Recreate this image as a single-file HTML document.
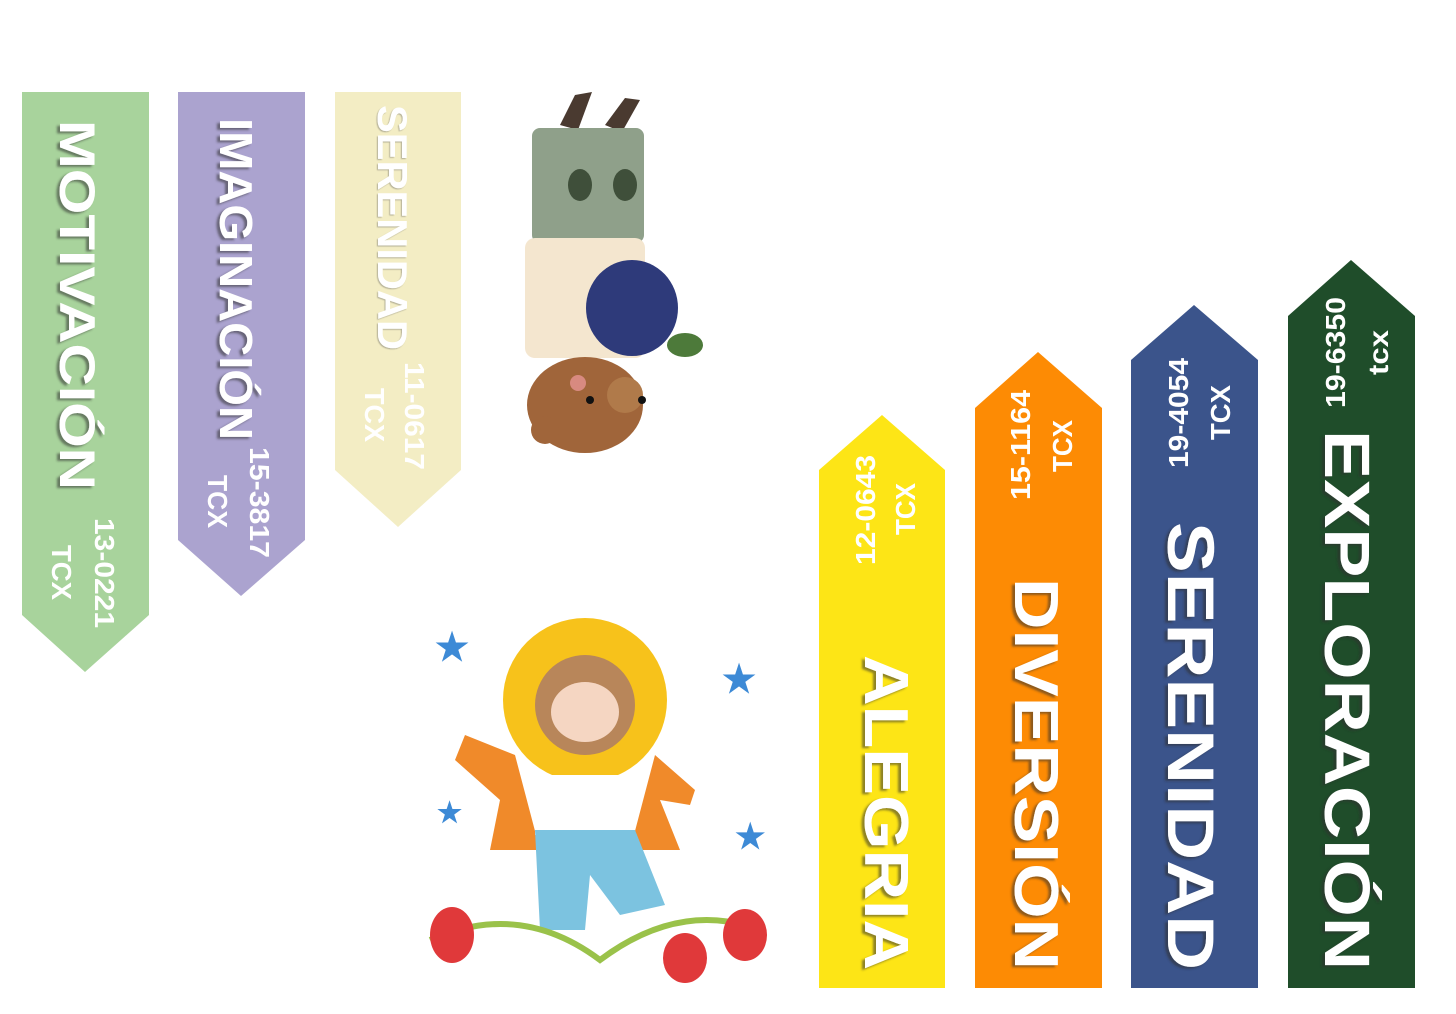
<!DOCTYPE html>
<html><head><meta charset="utf-8"><style>
html,body{margin:0;padding:0;background:#fff;}
svg{display:block;}
text{font-family:"Liberation Sans",sans-serif;font-weight:bold;fill:#fff;}
</style></head><body>
<svg width="1456" height="1014" viewBox="0 0 1456 1014" xmlns="http://www.w3.org/2000/svg">
<defs>
<filter id="sh" x="-20%" y="-20%" width="140%" height="140%"><feDropShadow dx="-3" dy="2" stdDeviation="1" flood-color="#333" flood-opacity="0.55"/></filter>
<filter id="sh2" x="-20%" y="-20%" width="140%" height="140%"><feDropShadow dx="-1" dy="1" stdDeviation="0.6" flood-color="#555" flood-opacity="0.4"/></filter>
</defs>
<polygon points="22,92 149,92 149,615 85,672 22,615" fill="#a8d39c"/>
<polygon points="178,92 305,92 305,540 241,596 178,540" fill="#aba3cf"/>
<polygon points="335,92 461,92 461,470 398,527 335,470" fill="#f3edc4"/>
<polygon points="819,470 882,415 945,470 945,988 819,988" fill="#fde516"/>
<polygon points="975,408 1038,352 1102,408 1102,988 975,988" fill="#fd8b04"/>
<polygon points="1131,360 1194,305 1258,360 1258,988 1131,988" fill="#3b548b"/>
<polygon points="1288,316 1351,260 1415,316 1415,988 1288,988" fill="#1f4d2a"/>

<g filter="url(#sh)">
<text transform="translate(60,120) rotate(90)" font-size="50" textLength="370" lengthAdjust="spacingAndGlyphs">MOTIVACIÓN</text>
<text transform="translate(220,118) rotate(90)" font-size="46" textLength="322" lengthAdjust="spacingAndGlyphs">IMAGINACIÓN</text>
<text transform="translate(865,655) rotate(90)" font-size="62" textLength="315" lengthAdjust="spacingAndGlyphs">ALEGRIA</text>
<text transform="translate(1015,578) rotate(90)" font-size="62" textLength="392" lengthAdjust="spacingAndGlyphs">DIVERSIÓN</text>
<text transform="translate(1168,522) rotate(90)" font-size="66" textLength="448" lengthAdjust="spacingAndGlyphs">SERENIDAD</text>
<text transform="translate(1325,430) rotate(90)" font-size="64" textLength="540" lengthAdjust="spacingAndGlyphs">EXPLORACIÓN</text>
</g>
<g filter="url(#sh2)">
<text transform="translate(378,105) rotate(90)" font-size="42" textLength="245" lengthAdjust="spacingAndGlyphs">SERENIDAD</text>
</g>
<g font-size="28">
<text transform="translate(95,518) rotate(90)" textLength="110" lengthAdjust="spacingAndGlyphs">13-0221</text>
<text transform="translate(52,545) rotate(90)" textLength="55" lengthAdjust="spacingAndGlyphs">TCX</text>
<text transform="translate(250,447) rotate(90)" textLength="111" lengthAdjust="spacingAndGlyphs">15-3817</text>
<text transform="translate(208,475) rotate(90)" textLength="53" lengthAdjust="spacingAndGlyphs">TCX</text>
<text transform="translate(405,362) rotate(90)" textLength="108" lengthAdjust="spacingAndGlyphs">11-0617</text>
<text transform="translate(365,388) rotate(90)" textLength="54" lengthAdjust="spacingAndGlyphs">TCX</text>
<text transform="translate(875,565) rotate(-90)" textLength="110" lengthAdjust="spacingAndGlyphs">12-0643</text>
<text transform="translate(915,535) rotate(-90)" textLength="52" lengthAdjust="spacingAndGlyphs">TCX</text>
<text transform="translate(1030,500) rotate(-90)" textLength="110" lengthAdjust="spacingAndGlyphs">15-1164</text>
<text transform="translate(1072,472) rotate(-90)" textLength="52" lengthAdjust="spacingAndGlyphs">TCX</text>
<text transform="translate(1188,468) rotate(-90)" textLength="110" lengthAdjust="spacingAndGlyphs">19-4054</text>
<text transform="translate(1230,440) rotate(-90)" textLength="55" lengthAdjust="spacingAndGlyphs">TCX</text>
<text transform="translate(1345,408) rotate(-90)" textLength="111" lengthAdjust="spacingAndGlyphs">19-6350</text>
<text transform="translate(1388,375) rotate(-90)" textLength="45" lengthAdjust="spacingAndGlyphs">tcx</text>
</g>

<g>
<path d="M560,125 L575,95 L592,92 L578,130 Z" fill="#4a3a30"/>
<path d="M605,125 L625,98 L640,100 L622,132 Z" fill="#4a3a30"/>
<rect x="532" y="128" width="112" height="115" rx="8" fill="#8fa08a"/>
<ellipse cx="580" cy="185" rx="12" ry="16" fill="#3f4f3a"/>
<ellipse cx="625" cy="185" rx="12" ry="16" fill="#3f4f3a"/>
<rect x="525" y="238" width="120" height="120" rx="10" fill="#f4e6cf"/>
<ellipse cx="585" cy="405" rx="58" ry="48" fill="#a0653a"/>
<circle cx="545" cy="430" r="14" fill="#a0653a"/>
<circle cx="625" cy="395" r="18" fill="#b07a4a"/>
<circle cx="590" cy="400" r="4" fill="#111"/>
<circle cx="642" cy="400" r="4" fill="#111"/>
<circle cx="578" cy="383" r="8" fill="#d88a80"/>
<ellipse cx="632" cy="308" rx="46" ry="48" fill="#2e3a7a"/>
<ellipse cx="685" cy="345" rx="18" ry="12" fill="#4d7a3a"/>
</g>

<g>
<circle cx="585" cy="700" r="82" fill="#f7c21b"/>
<circle cx="585" cy="705" r="50" fill="#b8865a"/>
<ellipse cx="585" cy="712" rx="34" ry="30" fill="#f5d6c2"/>
<path d="M515,755 L465,735 L455,760 L500,800 L490,850 L540,850 Z" fill="#f08a2a"/>
<path d="M655,755 L695,790 L690,805 L660,800 L680,850 L630,850 Z" fill="#f08a2a"/>
<rect x="535" y="775" width="100" height="60" fill="#fff"/>
<path d="M535,830 L635,830 L665,905 L620,915 L590,875 L585,930 L540,930 Z" fill="#7cc3e0"/>
<path d="M430,940 Q520,900 600,960 Q680,900 760,930" stroke="#9ac24a" stroke-width="6" fill="none"/>
<ellipse cx="452" cy="935" rx="22" ry="28" fill="#e0393a"/>
<ellipse cx="685" cy="958" rx="22" ry="25" fill="#e0393a"/>
<ellipse cx="745" cy="935" rx="22" ry="26" fill="#e0393a"/>
<text x="435" y="660" font-size="38" style="fill:#3d8ad6">★</text>
<text x="722" y="692" font-size="38" style="fill:#3d8ad6">★</text>
<text x="437" y="822" font-size="28" style="fill:#3d8ad6">★</text>
<text x="735" y="848" font-size="34" style="fill:#3d8ad6">★</text>
</g>
</svg>
</body></html>
